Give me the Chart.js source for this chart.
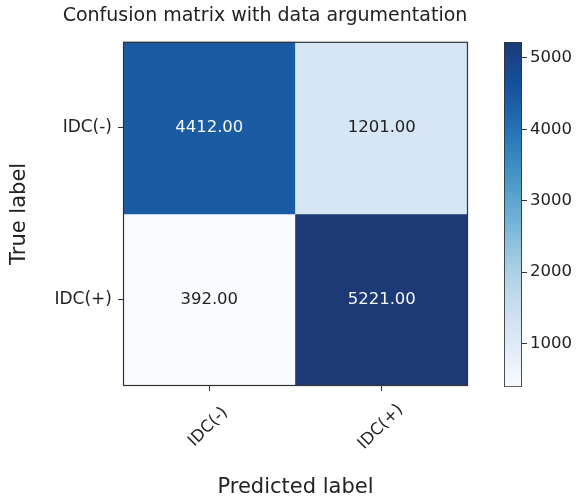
<!DOCTYPE html>
<html><head><meta charset="utf-8">
<script src="https://cdn.jsdelivr.net/npm/chart.js@4/dist/chart.umd.min.js"></script>
<style>
html,body{margin:0;padding:0;background:#fff;}
#wrap{position:relative;width:578px;height:500px;overflow:hidden;}
canvas{position:absolute;top:0;}
#main{left:0;}
#cbar{left:480px;}
</style></head><body>
<div id="wrap"><canvas id="main" width="530" height="500"></canvas><canvas id="cbar" width="98" height="500"></canvas></div>
<script>
// ---- data ----
const predictedLabels = ['IDC(-)', 'IDC(+)'];
const trueLabels = ['IDC(-)', 'IDC(+)'];
const rowNeg = [4412, 1201];
const rowPos = [392, 5221];
const colorbarTicks = [1000, 2000, 3000, 4000, 5000];
const chartTitle = 'Confusion matrix with data argumentation';

const matrix = [rowNeg, rowPos];
const allVals = matrix.flat();
const vmin = Math.min(...allVals);
const vmax = Math.max(...allVals);

// Blues-like colormap
const blues = [
  [0.000, [247, 251, 255]],
  [0.125, [222, 235, 247]],
  [0.250, [198, 219, 239]],
  [0.375, [158, 202, 225]],
  [0.500, [107, 174, 214]],
  [0.625, [66, 146, 198]],
  [0.750, [37, 113, 180]],
  [0.875, [21, 81, 156]],
  [1.000, [29, 58, 119]]
];
function cmap(t) {
  t = Math.max(0, Math.min(1, t));
  for (let i = 1; i < blues.length; i++) {
    if (t <= blues[i][0]) {
      const [t0, c0] = blues[i - 1], [t1, c1] = blues[i];
      const f = (t - t0) / (t1 - t0);
      const c = c0.map((v, k) => Math.round(v + (c1[k] - v) * f));
      return `rgb(${c[0]},${c[1]},${c[2]})`;
    }
  }
  const c = blues[blues.length - 1][1];
  return `rgb(${c[0]},${c[1]},${c[2]})`;
}
const norm = v => (v - vmin) / (vmax - vmin);

const FONT = 'DejaVu Sans';
const TXT = '#222';
Chart.defaults.font.family = FONT;
Chart.defaults.color = TXT;
Chart.defaults.animation = false;

// ---- main heatmap ----
const cellPlugin = {
  id: 'cells',
  afterDatasetsDraw(chart) {
    const ctx = chart.ctx;
    const a = chart.chartArea;
    ctx.save();
    ctx.font = `16.5px "${FONT}"`;
    ctx.textAlign = 'center';
    ctx.textBaseline = 'middle';
    const thresh = vmax / 2;
    matrix.forEach((row, r) => {
      const meta = chart.getDatasetMeta(r);
      meta.data.forEach((bar, i) => {
        const p = bar.getProps(['x', 'y', 'base'], true);
        const v = row[i];
        ctx.fillStyle = v > thresh ? '#f4f7fb' : TXT;
        ctx.fillText(v.toFixed(2), p.x, (p.y + p.base) / 2);
      });
    });
    // frame
    ctx.strokeStyle = '#333';
    ctx.lineWidth = 1.2;
    ctx.strokeRect(a.left + 0.5, a.top + 0.5, a.right - a.left - 1, a.bottom - a.top - 1);
    // rotated x tick labels, centred on ticks
    const xs = chart.scales.x;
    ctx.font = `16.5px "${FONT}"`;
    ctx.fillStyle = TXT;
    predictedLabels.forEach((lab, i) => {
      const x = xs.getPixelForTick(i);
      ctx.save();
      ctx.translate(x - 1, xs.top + 41);
      ctx.rotate(-Math.PI / 4);
      ctx.textAlign = 'center';
      ctx.textBaseline = 'middle';
      ctx.fillText(lab, 0, 0);
      ctx.restore();
    });
    ctx.restore();
  }
};

new Chart(document.getElementById('main'), {
  type: 'bar',
  data: {
    labels: predictedLabels,
    datasets: matrix.map((row, r) => ({
      label: trueLabels[r],
      data: row.map(() => [r, r + 1]),
      backgroundColor: row.map(v => cmap(norm(v))),
      borderWidth: 0,
      barPercentage: 1,
      categoryPercentage: 1,
      grouped: false
    }))
  },
  options: {
    responsive: false,
    devicePixelRatio: 1,
    layout: { padding: 0 },
    plugins: {
      legend: { display: false },
      tooltip: { enabled: false },
      title: {
        display: true,
        text: chartTitle,
        color: TXT,
        font: { size: 19, weight: 'normal', family: FONT },
        padding: { top: 5, bottom: 14 }
      }
    },
    scales: {
      x: {
        type: 'category',
        offset: true,
        grid: { display: true, drawOnChartArea: false, offset: false, tickLength: 5, color: '#333' },
        border: { display: false },
        ticks: { display: false },
        title: { display: true, text: 'Predicted label', color: TXT, font: { size: 21, family: FONT }, padding: { top: 0, bottom: 0 } },
        afterFit(s) { s.height = 114; }
      },
      y: {
        type: 'linear',
        min: 0,
        max: trueLabels.length,
        reverse: true,
        afterBuildTicks(s) { s.ticks = trueLabels.map((_, i) => ({ value: i + 0.5 })); },
        grid: { display: true, drawOnChartArea: false, tickLength: 5, color: '#333' },
        border: { display: false },
        ticks: {
          padding: 6,
          color: TXT,
          font: { size: 17, family: FONT },
          callback: v => trueLabels[Math.floor(v)]
        },
        title: { display: true, text: 'True label', color: TXT, font: { size: 21, family: FONT }, padding: { top: 7, bottom: 0 } },
        afterFit(s) { s.width = 123; }
      },
      yR: {
        type: 'linear',
        position: 'right',
        display: true,
        grid: { display: false },
        border: { display: false },
        ticks: { display: false },
        afterFit(s) { s.width = 62; }
      }
    }
  },
  plugins: [cellPlugin]
});

// ---- colorbar ----
new Chart(document.getElementById('cbar'), {
  type: 'bar',
  data: {
    labels: ['scale'],
    datasets: [{
      data: [[vmin, vmax]],
      backgroundColor(c) {
        const ch = c.chart;
        if (!ch.chartArea) return 'rgba(0,0,0,0)';
        const ys = ch.scales.y;
        const g = ch.ctx.createLinearGradient(0, ys.getPixelForValue(vmin), 0, ys.getPixelForValue(vmax));
        for (let i = 0; i <= 40; i++) g.addColorStop(i / 40, cmap(i / 40));
        return g;
      },
      borderColor: '#333',
      borderWidth: 1.2,
      borderSkipped: false,
      barPercentage: 1,
      categoryPercentage: 1
    }]
  },
  options: {
    responsive: false,
    devicePixelRatio: 1,
    layout: { padding: { left: 24, top: 42, bottom: 113, right: 0 } },
    plugins: { legend: { display: false }, tooltip: { enabled: false } },
    scales: {
      x: { display: false, offset: true },
      y: {
        type: 'linear',
        position: 'right',
        min: vmin,
        max: vmax,
        afterBuildTicks(s) { s.ticks = colorbarTicks.map(v => ({ value: v })); },
        grid: { display: true, drawOnChartArea: false, tickLength: 5, color: '#333' },
        border: { display: false },
        ticks: { padding: 3, color: TXT, font: { size: 16.5, family: FONT }, callback: v => String(v) },
        afterFit(s) { s.width = 56; }
      }
    }
  }
});
</script>
</body></html>
